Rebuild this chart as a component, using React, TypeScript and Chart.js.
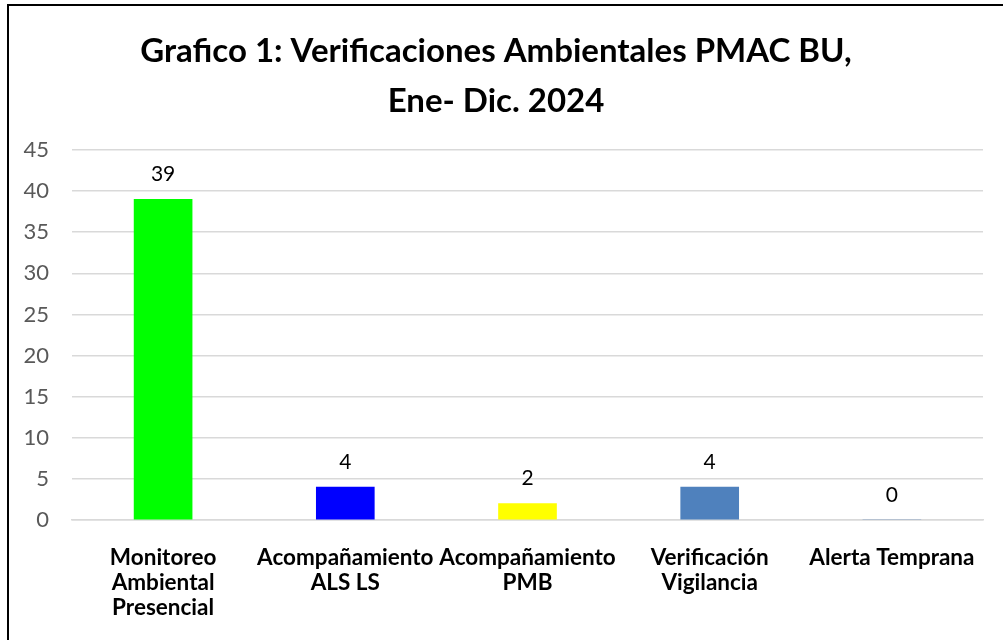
import React, { useEffect, useRef } from "react";
import { Chart, registerables } from "chart.js";

Chart.register(...registerables);

const categories: string[][] = [
  ["Monitoreo", "Ambiental", "Presencial"],
  ["Acompañamiento", "ALS LS"],
  ["Acompañamiento", "PMB"],
  ["Verificación", "Vigilancia"],
  ["Alerta Temprana"],
];
const values: number[] = [39, 4, 2, 4, 0];
const barColors: string[] = ["#00FF00", "#0000FF", "#FFFF00", "#4F81BD", "#4F81BD"];
const titleLines: string[] = ["Grafico 1: Verificaciones Ambientales PMAC BU,", "Ene- Dic. 2024"];
const yMax = 45;
const yStep = 5;

const FONT = "Lato, 'Open Sans', sans-serif";

const valueLabels = {
  id: "valueLabels",
  afterDatasetsDraw(chart: any) {
    const ctx = chart.ctx;
    const meta = chart.getDatasetMeta(0);
    ctx.save();
    ctx.font = `21px ${FONT}`;
    ctx.fillStyle = "#000000";
    ctx.textAlign = "center";
    ctx.textBaseline = "middle";
    meta.data.forEach((bar: any, i: number) => {
      ctx.fillText(String(values[i]), bar.x, bar.y - 25);
    });
    ctx.restore();
  },
};

export default function App() {
  const ref = useRef<HTMLCanvasElement>(null);
  useEffect(() => {
    if (!ref.current) return;
    const chart = new Chart(ref.current, {
      type: "bar",
      data: {
        labels: categories,
        datasets: [
          {
            data: values,
            backgroundColor: barColors,
            barThickness: 58,
            borderSkipped: true,
          },
        ],
      },
      options: {
        animation: false,
        responsive: false,
        maintainAspectRatio: false,
        layout: { padding: { left: 0, right: 20, top: 0, bottom: 0 } },
        plugins: {
          legend: { display: false },
          tooltip: { enabled: false },
          title: {
            display: true,
            text: titleLines,
            color: "#000000",
            font: { family: FONT, size: 33, weight: "bold", lineHeight: 1.5 },
            padding: { top: 21, bottom: 24 },
          },
        },
        scales: {
          x: {
            grid: { display: false, drawTicks: false },
            border: { display: true, color: "#d9d9d9", width: 1.5 },
            ticks: {
              color: "#000000",
              font: { family: FONT, size: 22.5, weight: "bold", lineHeight: 1.11 },
              padding: 25,
              maxRotation: 0,
              autoSkip: false,
            },
            afterFit: (s: any) => {
              s.height = 120;
            },
          },
          y: {
            min: 0,
            max: yMax,
            grid: { color: "#d9d9d9", lineWidth: 1.5, drawTicks: false },
            border: { display: false },
            ticks: {
              stepSize: yStep,
              color: "#595959",
              font: { family: FONT, size: 22 },
              padding: 23,
            },
            afterFit: (s: any) => {
              s.width = 63;
            },
          },
        },
      },
      plugins: [valueLabels],
    });
    return () => chart.destroy();
  }, []);

  return (
    <div>
      <div
        style={{
          position: "fixed",
          left: 7,
          top: 4,
          width: 1020,
          height: 680,
          border: "2px solid #000",
          background: "#fff",
        }}
      />
      <canvas
        ref={ref}
        width={994}
        height={634}
        style={{ position: "fixed", left: 9, top: 6, width: 994, height: 634 }}
      />
    </div>
  );
}
